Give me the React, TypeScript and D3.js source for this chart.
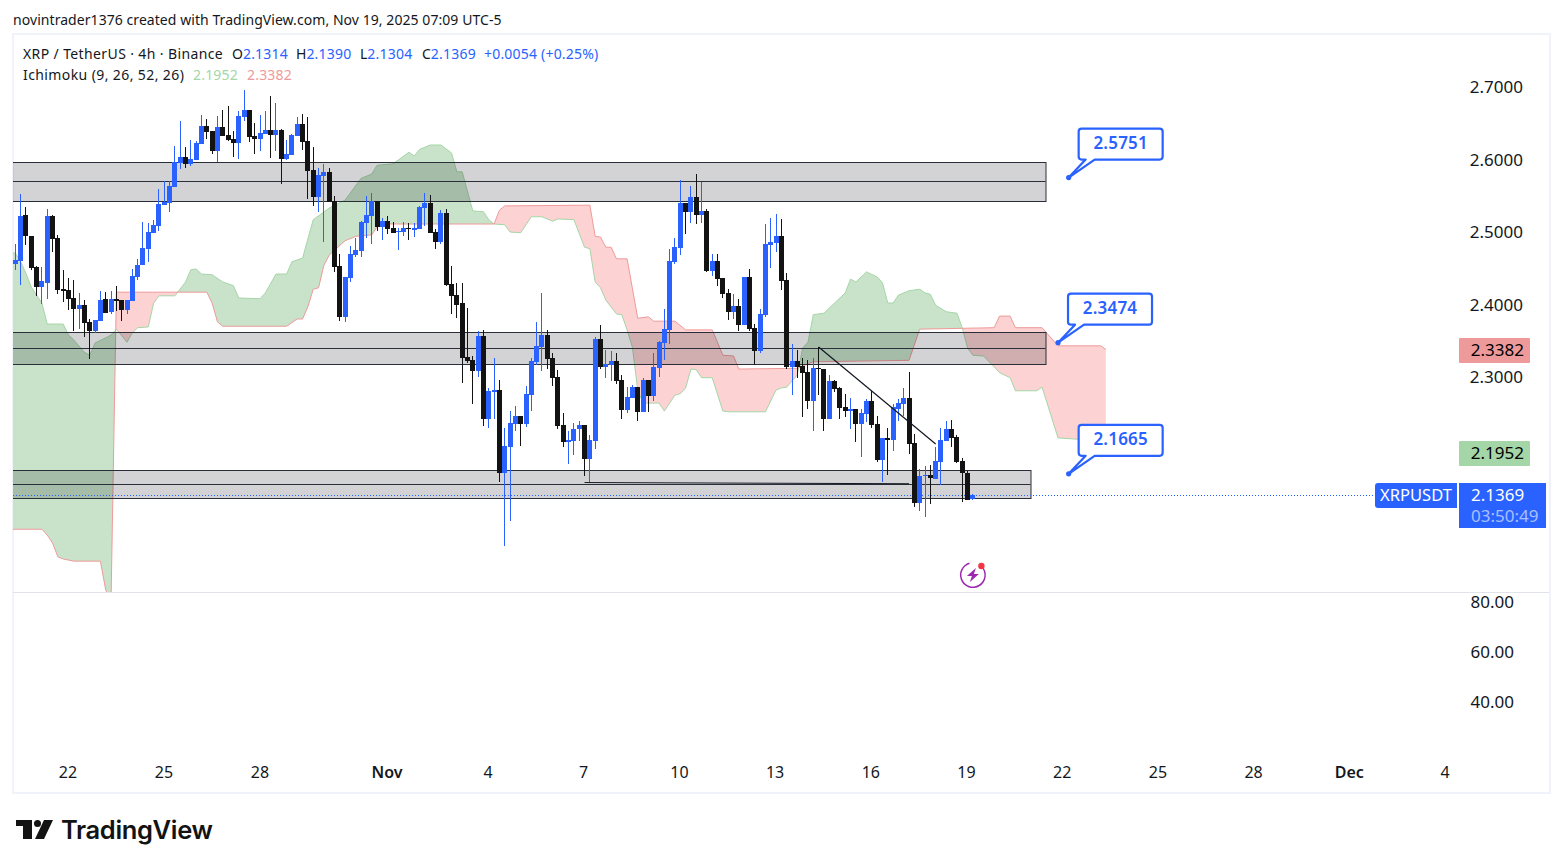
import React from 'react';
import * as d3 from 'd3';

const WIDTH = 1563;
const HEIGHT = 868;
const FONT = '"Noto Sans", Roboto, sans-serif';
const BLUE = '#2962ff';
const BLACK = '#131313';
const GREEN_LINE = '#a5d6a7';
const RED_LINE = '#ef9a9a';
const TEXT = '#131722';

// 4h candles
const opens = [
  2.456, 2.46, 2.524, 2.494, 2.452, 2.424, 2.43, 2.522, 2.492, 2.421,
  2.42, 2.409, 2.394, 2.399, 2.376, 2.3635, 2.377, 2.408, 2.39, 2.408,
  2.406, 2.392, 2.405, 2.438, 2.4545, 2.477, 2.499, 2.508, 2.537, 2.54,
  2.562, 2.595, 2.603, 2.594, 2.599, 2.621, 2.646, 2.639, 2.612, 2.645,
  2.634, 2.628, 2.623, 2.659, 2.668, 2.632, 2.628, 2.635, 2.641, 2.634,
  2.641, 2.601, 2.606, 2.632, 2.649, 2.625, 2.586, 2.548, 2.577, 2.583,
  2.543, 2.453, 2.383, 2.4365, 2.468, 2.474, 2.512, 2.522, 2.543, 2.507,
  2.515, 2.505, 2.5, 2.5, 2.505, 2.503, 2.504, 2.533, 2.54, 2.5,
  2.486, 2.526, 2.428, 2.413, 2.402, 2.328, 2.323, 2.308, 2.357, 2.242,
  2.279, 2.282, 2.168, 2.203, 2.235, 2.246, 2.235, 2.275, 2.321, 2.341,
  2.358, 2.326, 2.3, 2.234, 2.21, 2.212, 2.228, 2.234, 2.187, 2.212,
  2.352, 2.314, 2.317, 2.322, 2.296, 2.254, 2.271, 2.286, 2.252, 2.296,
  2.274, 2.312, 2.347, 2.365, 2.459, 2.478, 2.54, 2.528, 2.548, 2.523,
  2.529, 2.446, 2.46, 2.437, 2.416, 2.39, 2.398, 2.372, 2.438, 2.367,
  2.336, 2.386, 2.482, 2.485, 2.494, 2.434, 2.314, 2.322, 2.315, 2.307,
  2.267, 2.312, 2.311, 2.242, 2.294, 2.285, 2.258, 2.253, 2.256, 2.235,
  2.249, 2.267, 2.235, 2.185, 2.216, 2.213, 2.256, 2.263, 2.271, 2.209,
  2.126, 2.163, 2.165, 2.159, 2.183, 2.212, 2.228, 2.217, 2.184, 2.168,
  2.1314,
];
const highs = [
  2.484, 2.552, 2.535, 2.495, 2.453, 2.452, 2.532, 2.524, 2.496, 2.448,
  2.437, 2.434, 2.416, 2.4063, 2.38, 2.379, 2.419, 2.417, 2.419, 2.425,
  2.406, 2.406, 2.449, 2.463, 2.514, 2.512, 2.517, 2.559, 2.57, 2.57,
  2.619, 2.653, 2.617, 2.627, 2.626, 2.661, 2.656, 2.639, 2.66, 2.668,
  2.674, 2.639, 2.667, 2.696, 2.668, 2.65, 2.661, 2.667, 2.688, 2.678,
  2.642, 2.627, 2.635, 2.659, 2.663, 2.659, 2.617, 2.588, 2.594, 2.588,
  2.55, 2.47, 2.438, 2.4807, 2.492, 2.515, 2.55, 2.554, 2.543, 2.519,
  2.522, 2.514, 2.505, 2.514, 2.512, 2.512, 2.536, 2.554, 2.551, 2.504,
  2.53, 2.532, 2.453, 2.43, 2.43, 2.395, 2.329, 2.363, 2.365, 2.285,
  2.326, 2.296, 2.23, 2.253, 2.26, 2.246, 2.288, 2.326, 2.376, 2.416,
  2.365, 2.333, 2.31, 2.25, 2.225, 2.237, 2.239, 2.234, 2.22, 2.355,
  2.372, 2.337, 2.336, 2.333, 2.303, 2.286, 2.289, 2.286, 2.299, 2.296,
  2.333, 2.35, 2.394, 2.477, 2.492, 2.572, 2.54, 2.563, 2.58, 2.569,
  2.532, 2.47, 2.47, 2.437, 2.421, 2.414, 2.408, 2.438, 2.449, 2.373,
  2.394, 2.511, 2.519, 2.525, 2.518, 2.443, 2.345, 2.337, 2.326, 2.324,
  2.326, 2.341, 2.311, 2.303, 2.296, 2.286, 2.277, 2.271, 2.256, 2.256,
  2.27, 2.281, 2.246, 2.216, 2.23, 2.263, 2.27, 2.285, 2.307, 2.221,
  2.173, 2.177, 2.179, 2.203, 2.23, 2.239, 2.241, 2.22, 2.188, 2.17,
  2.139,
];
const lows = [
  2.447, 2.427, 2.482, 2.448, 2.412, 2.401, 2.408, 2.472, 2.4145, 2.4035,
  2.392, 2.3635, 2.366, 2.355, 2.325, 2.361, 2.377, 2.388, 2.387, 2.391,
  2.377, 2.387, 2.405, 2.434, 2.4545, 2.459, 2.499, 2.501, 2.537, 2.528,
  2.562, 2.587, 2.588, 2.591, 2.599, 2.621, 2.628, 2.608, 2.597, 2.632,
  2.625, 2.603, 2.601, 2.653, 2.624, 2.608, 2.612, 2.635, 2.602, 2.612,
  2.566, 2.599, 2.606, 2.632, 2.613, 2.546, 2.536, 2.528, 2.486, 2.541,
  2.445, 2.377, 2.376, 2.431, 2.465, 2.465, 2.492, 2.483, 2.501, 2.489,
  2.497, 2.499, 2.475, 2.494, 2.489, 2.493, 2.504, 2.508, 2.499, 2.477,
  2.483, 2.426, 2.387, 2.381, 2.292, 2.319, 2.263, 2.3, 2.232, 2.23,
  2.242, 2.155, 2.067, 2.101, 2.225, 2.205, 2.231, 2.253, 2.317, 2.308,
  2.311, 2.288, 2.228, 2.203, 2.18, 2.192, 2.212, 2.163, 2.154, 2.201,
  2.311, 2.299, 2.294, 2.29, 2.242, 2.25, 2.271, 2.239, 2.252, 2.252,
  2.267, 2.3, 2.323, 2.346, 2.456, 2.468, 2.497, 2.512, 2.511, 2.512,
  2.445, 2.439, 2.426, 2.409, 2.379, 2.38, 2.363, 2.372, 2.363, 2.317,
  2.333, 2.383, 2.45, 2.472, 2.42, 2.311, 2.275, 2.299, 2.245, 2.256,
  2.225, 2.275, 2.225, 2.242, 2.28, 2.242, 2.245, 2.228, 2.21, 2.19,
  2.238, 2.23, 2.183, 2.155, 2.165, 2.198, 2.239, 2.246, 2.194, 2.121,
  2.115, 2.107, 2.125, 2.159, 2.151, 2.212, 2.203, 2.181, 2.128, 2.13,
  2.1304,
];
const closes = [
  2.461, 2.522, 2.494, 2.45, 2.424, 2.432, 2.522, 2.491, 2.42, 2.419,
  2.408, 2.394, 2.399, 2.3745, 2.3635, 2.379, 2.406, 2.388, 2.408, 2.405,
  2.392, 2.406, 2.439, 2.4545, 2.478, 2.5, 2.51, 2.539, 2.541, 2.563,
  2.597, 2.603, 2.594, 2.601, 2.623, 2.646, 2.638, 2.612, 2.645, 2.632,
  2.627, 2.623, 2.66, 2.668, 2.631, 2.628, 2.637, 2.641, 2.634, 2.641,
  2.601, 2.608, 2.634, 2.649, 2.624, 2.584, 2.548, 2.579, 2.583, 2.541,
  2.452, 2.383, 2.438, 2.4696, 2.475, 2.514, 2.523, 2.543, 2.507, 2.515,
  2.504, 2.499, 2.501, 2.505, 2.504, 2.505, 2.534, 2.54, 2.499, 2.486,
  2.526, 2.427, 2.412, 2.399, 2.326, 2.322, 2.308, 2.357, 2.242, 2.281,
  2.282, 2.168, 2.205, 2.237, 2.246, 2.235, 2.277, 2.322, 2.343, 2.358,
  2.325, 2.299, 2.232, 2.21, 2.213, 2.228, 2.234, 2.187, 2.213, 2.352,
  2.314, 2.318, 2.322, 2.294, 2.254, 2.272, 2.286, 2.252, 2.296, 2.274,
  2.314, 2.348, 2.366, 2.46, 2.479, 2.54, 2.528, 2.548, 2.523, 2.529,
  2.446, 2.46, 2.435, 2.414, 2.39, 2.398, 2.372, 2.438, 2.366, 2.336,
  2.387, 2.483, 2.486, 2.494, 2.432, 2.314, 2.322, 2.314, 2.305, 2.267,
  2.312, 2.311, 2.242, 2.294, 2.283, 2.257, 2.253, 2.256, 2.235, 2.25,
  2.267, 2.234, 2.185, 2.216, 2.213, 2.259, 2.264, 2.271, 2.208, 2.126,
  2.163, 2.165, 2.161, 2.184, 2.213, 2.228, 2.216, 2.183, 2.168, 2.13,
  2.1369,
];

// Ichimoku leading spans, bar index + price at each visible bend
const spanABars = [
  -1, 0, 1, 2, 3, 5, 6, 9, 10, 11, 13, 14, 15, 17, 18, 19, 21, 22, 23, 25, 26, 27, 30, 32, 33, 34, 35, 37, 39, 41,
  42, 46, 47, 49, 51, 52, 54, 56, 59, 62, 65, 67, 68, 71, 74, 75, 76, 78, 80, 82, 83, 84, 86, 88, 89, 90, 92, 93, 95, 97,
  99, 101, 102, 105, 107, 108, 109, 110, 111, 113, 114, 115, 116, 117, 118, 121, 122, 124, 125, 126, 127, 128, 129, 131, 133, 134, 141, 143, 144, 145,
  147, 148, 149, 150, 152, 154, 156, 157, 158, 160, 162, 163, 164, 165, 166, 168, 170, 171, 172, 173, 175, 177, 178, 179, 180, 182, 184, 185, 187, 188,
  192, 193, 196, 200, 201, 203, 205,
];
const spanAValues = [
  2.471, 2.471, 2.459, 2.443, 2.424, 2.402, 2.373, 2.373, 2.358, 2.351, 2.334, 2.33, 2.347, 2.354, 2.358, 2.366, 2.348, 2.361, 2.368, 2.369, 2.402, 2.412, 2.412, 2.431, 2.448, 2.449, 2.442, 2.441, 2.431, 2.426,
  2.409, 2.408, 2.416, 2.442, 2.442, 2.459, 2.464, 2.517, 2.533, 2.544, 2.574, 2.58, 2.592, 2.594, 2.61, 2.605, 2.614, 2.62, 2.62, 2.609, 2.583, 2.583, 2.529, 2.528, 2.517, 2.511, 2.51, 2.5, 2.499, 2.521,
  2.521, 2.515, 2.518, 2.517, 2.479, 2.477, 2.431, 2.423, 2.406, 2.387, 2.386, 2.365, 2.341, 2.282, 2.264, 2.264, 2.253, 2.275, 2.277, 2.285, 2.311, 2.31, 2.299, 2.299, 2.253, 2.252, 2.252, 2.282, 2.285, 2.286,
  2.303, 2.34, 2.348, 2.386, 2.388, 2.402, 2.416, 2.435, 2.431, 2.445, 2.438, 2.43, 2.402, 2.402, 2.413, 2.419, 2.421, 2.416, 2.414, 2.399, 2.39, 2.388, 2.368, 2.34, 2.33, 2.329, 2.314, 2.306, 2.299, 2.281,
  2.281, 2.286, 2.216, 2.214, 2.214, 2.195, 2.195,
];
const spanBBars = [
  -1, 5, 6, 7, 8, 9, 11, 16, 17, 18, 19, 36, 37, 38, 39, 51, 53, 54, 55, 56, 57, 58, 59, 60, 62, 64, 67, 68, 69, 90,
  91, 92, 108, 109, 110, 111, 112, 113, 115, 117, 119, 120, 124, 126, 131, 133, 135, 136, 147, 150, 168, 170, 184, 185, 187, 188, 193, 196, 204, 205,
];
const spanBValues = [
  2.09, 2.09, 2.082, 2.071, 2.052, 2.049, 2.046, 2.046, 2.006, 1.992, 2.417, 2.417, 2.402, 2.376, 2.37, 2.37, 2.38, 2.38, 2.397, 2.421, 2.423, 2.454, 2.468, 2.475, 2.488, 2.494, 2.496, 2.507, 2.511, 2.511,
  2.53, 2.536, 2.537, 2.494, 2.493, 2.479, 2.479, 2.463, 2.463, 2.381, 2.383, 2.377, 2.377, 2.365, 2.365, 2.33, 2.329, 2.311, 2.312, 2.321, 2.323, 2.366, 2.368, 2.384, 2.384, 2.368, 2.368, 2.343, 2.343, 2.338,
];

// grey zones drawn on the chart: top, middle, bottom price and last bar
const zoneTops = [2.5966, 2.3621, 2.1717];
const zoneMids = [2.5703, 2.34, 2.1524];
const zoneBottoms = [2.5428, 2.3179, 2.1331];
const zoneEndBars = [193.5, 193.5, 190.7];

const calloutPrices = [2.5751, 2.3474, 2.1665];
const calloutBars = [198, 196, 198];

const priceTicks = [2.7, 2.6, 2.5, 2.4, 2.3];
const rsiTicks = [80, 60, 40];
const dayOffsets = [0, 3, 6, 10, 13, 16, 19, 22, 25, 28, 31, 34, 37, 40, 43];
const dayLabels = ['22', '25', '28', 'Nov', '4', '7', '10', '13', '16', '19', '22', '25', '28', 'Dec', '4'];

const x = d3.scaleLinear().domain([0, 180]).range([15.3, 972.9]);
const y = d3.scaleLinear().domain([2.7, 2.3]).range([87, 377]);
const rsiY = d3.scaleLinear().domain([80, 40]).range([602, 702]);
const dayX = d3.scaleLinear().domain([0, 6, 10, 13, 43]).range([68, 260, 387, 488, 1445]);

const spanA = spanABars.map((b, i) => [b, spanAValues[i]] as [number, number]);
const spanB = spanBBars.map((b, i) => [b, spanBValues[i]] as [number, number]);

const spanLine = d3.line<[number, number]>().x(d => x(d[0])).y(d => y(d[1]));
const belowCurve = d3.area<[number, number]>().x(d => x(d[0])).y0(2000).y1(d => y(d[1]));
const aboveCurve = d3.area<[number, number]>().x(d => x(d[0])).y0(-1000).y1(d => y(d[1]));

const snap = (v: number) => Math.round(v) + 0.5;

const calloutPath = (tx: number, ty: number) => {
  const l = tx + 10, r = tx + 94, t = ty - 49, b = ty - 18;
  return `M${l + 3},${t}H${r - 3}Q${r},${t} ${r},${t + 3}V${b - 3}Q${r},${b} ${r - 3},${b}H${tx + 26}L${tx},${ty}L${tx + 17},${b}H${l + 3}Q${l},${b} ${l},${b - 3}V${t + 3}Q${l},${t} ${l + 3},${t}Z`;
};

export default function App() {
  const last = closes[closes.length - 1];

  return (
    <svg
      width={WIDTH}
      height={HEIGHT}
      viewBox={`0 0 ${WIDTH} ${HEIGHT}`}
      style={{ position: 'absolute', left: 0, top: 0, background: '#fff', display: 'block' }}
      fontFamily={FONT}
    >
      <defs>
        <clipPath id="pane"><rect x={13} y={34} width={1537} height={558} /></clipPath>
        <clipPath id="aboveB"><path d={aboveCurve(spanB)!} /></clipPath>
        <clipPath id="aboveA"><path d={aboveCurve(spanA)!} /></clipPath>
      </defs>

      <text x={13} y={24.5} fontSize={14} letterSpacing={0.06} fill={TEXT}>novintrader1376 created with TradingView.com, Nov 19, 2025 07:09 UTC-5</text>
      <rect x={13} y={34} width={1537} height={759} fill="none" stroke="#f0f3fa" strokeWidth={2} />
      <line x1={13} x2={1549} y1={592.5} y2={592.5} stroke="#e0e3eb" />

      <g clipPath="url(#pane)">
        {/* cloud */}
        <g clipPath="url(#aboveB)">
          <path d={belowCurve(spanA)!} fill="#c8e3c9" />
        </g>
        <g clipPath="url(#aboveA)">
          <path d={belowCurve(spanB)!} fill="#fcd2d2" />
        </g>
        <path d={spanLine(spanA)!} fill="none" stroke={GREEN_LINE} strokeWidth={1} />
        <path d={spanLine(spanB)!} fill="none" stroke={RED_LINE} strokeWidth={1} />

        {/* zones */}
        {zoneTops.map((top, i) => {
          const t = snap(y(top));
          const b = snap(y(zoneBottoms[i]));
          const r = snap(x(zoneEndBars[i]));
          return (
            <g key={i} stroke="#2a2e39" strokeWidth={1}>
              <rect x={0.5} y={t} width={r} height={b - t} fill="rgba(8,8,16,0.175)" />
              <line x1={0} x2={r} y1={snap(y(zoneMids[i]))} y2={snap(y(zoneMids[i]))} />
            </g>
          );
        })}

        {/* last price line */}
        <line x1={13} x2={1375} y1={snap(y(last))} y2={snap(y(last))} stroke={BLUE} strokeDasharray="1 2" />

        {/* candles */}
        <g shapeRendering="crispEdges">
          {closes.map((c, i) => {
            const o = opens[i];
            const color = c >= o ? BLUE : BLACK;
            const top = Math.min(y(o), y(c));
            const cx = Math.floor(x(i));
            return (
              <g key={i} fill={color}>
                <rect x={cx} width={1} y={y(highs[i])} height={y(lows[i]) - y(highs[i])} />
                <rect x={cx - 2} width={5} y={top} height={Math.max(1, Math.abs(y(o) - y(c)))} />
              </g>
            );
          })}
        </g>

        {/* drawn lines */}
        <line x1={x(107)} x2={x(168)} y1={y(2.1544)} y2={y(2.1528)} stroke={TEXT} />
        <line x1={x(151)} x2={x(173)} y1={y(2.3414)} y2={y(2.2076)} stroke={TEXT} strokeWidth={1.2} />
      </g>

      {/* callouts */}
      {calloutPrices.map((p, i) => {
        const tx = x(calloutBars[i]);
        const ty = y(p);
        return (
          <g key={p}>
            <path d={calloutPath(tx, ty)} fill="#fff" stroke={BLUE} strokeWidth={2.2} strokeLinejoin="round" />
            <circle cx={tx} cy={ty} r={2.6} fill={BLUE} />
            <text x={tx + 52} y={ty - 28.5} textAnchor="middle" fontSize={17} fontWeight={600} letterSpacing={0.2} fill={BLUE}>{p.toFixed(4)}</text>
          </g>
        );
      })}

      {/* header */}
      <text y={59} fontSize={14} fill={TEXT}>
        <tspan x={23} letterSpacing={0.38}>XRP / TetherUS · 4h · Binance</tspan>
        <tspan x={232}>O</tspan><tspan fill={BLUE} letterSpacing={0.2}>2.1314</tspan>
        <tspan x={296}>H</tspan><tspan fill={BLUE} letterSpacing={0.2}>2.1390</tspan>
        <tspan x={360}>L</tspan><tspan fill={BLUE} letterSpacing={0.2}>2.1304</tspan>
        <tspan x={422}>C</tspan><tspan fill={BLUE} letterSpacing={0.2}>2.1369</tspan>
        <tspan x={484} fill={BLUE} letterSpacing={0.2}>+0.0054 (+0.25%)</tspan>
      </text>
      <text y={80} fontSize={14} fill={TEXT}>
        <tspan x={23} letterSpacing={0.4}>Ichimoku (9, 26, 52, 26)</tspan>
        <tspan x={193} fill={GREEN_LINE} letterSpacing={0.2}>2.1952</tspan>
        <tspan x={247} fill={RED_LINE} letterSpacing={0.2}>2.3382</tspan>
      </text>

      {/* price axis */}
      {priceTicks.map(t => (
        <text key={t} x={1523} y={y(t) + 6} textAnchor="end" fontSize={17} fill={TEXT}>{t.toFixed(4)}</text>
      ))}
      {rsiTicks.map(t => (
        <text key={t} x={1514} y={rsiY(t) + 6} textAnchor="end" fontSize={17} fill={TEXT}>{t.toFixed(2)}</text>
      ))}

      <rect x={1459} y={338} width={71} height={25} rx={1} fill={RED_LINE} />
      <text x={1524} y={356} textAnchor="end" fontSize={17} fill="#000">2.3382</text>
      <rect x={1459} y={441} width={71} height={25} rx={1} fill={GREEN_LINE} />
      <text x={1524} y={459} textAnchor="end" fontSize={17} fill="#000">2.1952</text>

      <path d="M1378,483H1457V508H1378Q1375,508 1375,505V486Q1375,483 1378,483Z" fill={BLUE} />
      <text x={1416} y={501} textAnchor="middle" fontSize={16.5} fill="#fff">XRPUSDT</text>
      <rect x={1459} y={483} width={87} height={45} fill={BLUE} />
      <text x={1471} y={501} fontSize={17} fill="#fff">2.1369</text>
      <text x={1471} y={522} fontSize={17} fill="#fff" fillOpacity={0.6}>03:50:49</text>

      {/* time axis */}
      {dayLabels.map((d, i) => (
        <text
          key={i}
          x={dayX(dayOffsets[i])}
          y={778}
          textAnchor="middle"
          fontSize={16}
          fontWeight={d === 'Nov' || d === 'Dec' ? 600 : 400}
          fill={TEXT}
        >
          {d}
        </text>
      ))}

      {/* flash marker */}
      <g transform={`translate(${x(180)},575)`}>
        <path d={d3.arc()({ innerRadius: 11.5, outerRadius: 13, startAngle: 0.9, endAngle: 6.0 })!} fill="#9c27b0" />
        <path d="M3,-7L-6,1H-1L-3,7L6,-1H1Z" fill="#9c27b0" />
        <circle cx={8.5} cy={-9} r={3.2} fill="#f23645" />
      </g>

      {/* logo */}
      <g fill="#131313">
        <path d="M16,820H32V839H23V826H16Z" />
        <circle cx={37.5} cy={823.5} r={3.5} />
        <path d="M44,820H53L44,839H35Z" />
        <text x={61} y={839} fontSize={25.5} fontWeight={600} fontFamily="Inter, Roboto, sans-serif" letterSpacing={-0.35}>TradingView</text>
      </g>
    </svg>
  );
}
